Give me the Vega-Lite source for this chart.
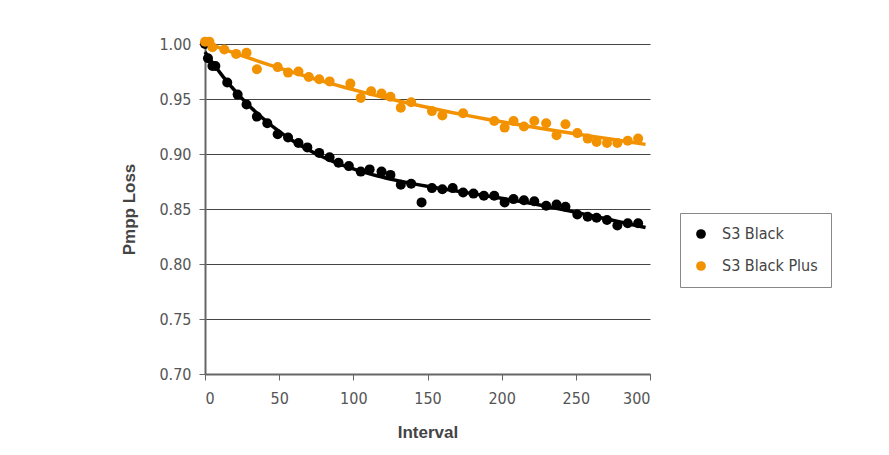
{
  "$schema": "https://vega.github.io/schema/vega-lite/v6.json",
  "width": 445,
  "height": 330,
  "autosize": {"type": "none"},
  "padding": {"left": 205, "top": 44, "right": 239, "bottom": 81},
  "background": "white",
  "config": {
    "view": {"stroke": null},
    "font": "DejaVu Sans Condensed, Roboto, sans-serif",
    "axis": {
      "labelFont": "DejaVu Sans Condensed, Roboto, sans-serif",
      "labelFontSize": 16,
      "labelColor": "#555555",
      "titleFont": "Liberation Sans, sans-serif",
      "titleFontSize": 17,
      "titleFontWeight": "bold",
      "titleColor": "#444444",
      "domainColor": "#666666",
      "domainWidth": 2,
      "tickColor": "#666666",
      "tickSize": 6,
      "gridColor": "#444444",
      "gridWidth": 1
    }
  },
  "data": {
    "values": [
      {"interval": 0, "loss": 1.000, "series": "S3 Black"},
      {"interval": 2, "loss": 0.987, "series": "S3 Black"},
      {"interval": 5, "loss": 0.980, "series": "S3 Black"},
      {"interval": 7, "loss": 0.980, "series": "S3 Black"},
      {"interval": 15, "loss": 0.965, "series": "S3 Black"},
      {"interval": 22, "loss": 0.954, "series": "S3 Black"},
      {"interval": 28, "loss": 0.945, "series": "S3 Black"},
      {"interval": 35, "loss": 0.934, "series": "S3 Black"},
      {"interval": 42, "loss": 0.928, "series": "S3 Black"},
      {"interval": 49, "loss": 0.918, "series": "S3 Black"},
      {"interval": 56, "loss": 0.915, "series": "S3 Black"},
      {"interval": 63, "loss": 0.910, "series": "S3 Black"},
      {"interval": 69, "loss": 0.906, "series": "S3 Black"},
      {"interval": 77, "loss": 0.901, "series": "S3 Black"},
      {"interval": 84, "loss": 0.897, "series": "S3 Black"},
      {"interval": 90, "loss": 0.892, "series": "S3 Black"},
      {"interval": 97, "loss": 0.889, "series": "S3 Black"},
      {"interval": 105, "loss": 0.884, "series": "S3 Black"},
      {"interval": 111, "loss": 0.886, "series": "S3 Black"},
      {"interval": 119, "loss": 0.884, "series": "S3 Black"},
      {"interval": 125, "loss": 0.881, "series": "S3 Black"},
      {"interval": 132, "loss": 0.872, "series": "S3 Black"},
      {"interval": 139, "loss": 0.873, "series": "S3 Black"},
      {"interval": 146, "loss": 0.856, "series": "S3 Black"},
      {"interval": 153, "loss": 0.869, "series": "S3 Black"},
      {"interval": 160, "loss": 0.868, "series": "S3 Black"},
      {"interval": 167, "loss": 0.869, "series": "S3 Black"},
      {"interval": 174, "loss": 0.865, "series": "S3 Black"},
      {"interval": 181, "loss": 0.864, "series": "S3 Black"},
      {"interval": 188, "loss": 0.862, "series": "S3 Black"},
      {"interval": 195, "loss": 0.862, "series": "S3 Black"},
      {"interval": 202, "loss": 0.856, "series": "S3 Black"},
      {"interval": 208, "loss": 0.859, "series": "S3 Black"},
      {"interval": 215, "loss": 0.858, "series": "S3 Black"},
      {"interval": 222, "loss": 0.857, "series": "S3 Black"},
      {"interval": 230, "loss": 0.853, "series": "S3 Black"},
      {"interval": 237, "loss": 0.854, "series": "S3 Black"},
      {"interval": 243, "loss": 0.852, "series": "S3 Black"},
      {"interval": 251, "loss": 0.845, "series": "S3 Black"},
      {"interval": 258, "loss": 0.843, "series": "S3 Black"},
      {"interval": 264, "loss": 0.842, "series": "S3 Black"},
      {"interval": 271, "loss": 0.840, "series": "S3 Black"},
      {"interval": 278, "loss": 0.835, "series": "S3 Black"},
      {"interval": 285, "loss": 0.837, "series": "S3 Black"},
      {"interval": 292, "loss": 0.837, "series": "S3 Black"},
      {"interval": 0, "loss": 1.002, "series": "S3 Black Plus"},
      {"interval": 3, "loss": 1.002, "series": "S3 Black Plus"},
      {"interval": 5, "loss": 0.997, "series": "S3 Black Plus"},
      {"interval": 13, "loss": 0.995, "series": "S3 Black Plus"},
      {"interval": 21, "loss": 0.991, "series": "S3 Black Plus"},
      {"interval": 28, "loss": 0.992, "series": "S3 Black Plus"},
      {"interval": 35, "loss": 0.977, "series": "S3 Black Plus"},
      {"interval": 49, "loss": 0.979, "series": "S3 Black Plus"},
      {"interval": 56, "loss": 0.974, "series": "S3 Black Plus"},
      {"interval": 63, "loss": 0.975, "series": "S3 Black Plus"},
      {"interval": 70, "loss": 0.970, "series": "S3 Black Plus"},
      {"interval": 77, "loss": 0.968, "series": "S3 Black Plus"},
      {"interval": 84, "loss": 0.966, "series": "S3 Black Plus"},
      {"interval": 98, "loss": 0.964, "series": "S3 Black Plus"},
      {"interval": 105, "loss": 0.951, "series": "S3 Black Plus"},
      {"interval": 112, "loss": 0.957, "series": "S3 Black Plus"},
      {"interval": 119, "loss": 0.955, "series": "S3 Black Plus"},
      {"interval": 125, "loss": 0.952, "series": "S3 Black Plus"},
      {"interval": 132, "loss": 0.942, "series": "S3 Black Plus"},
      {"interval": 139, "loss": 0.947, "series": "S3 Black Plus"},
      {"interval": 153, "loss": 0.939, "series": "S3 Black Plus"},
      {"interval": 160, "loss": 0.935, "series": "S3 Black Plus"},
      {"interval": 174, "loss": 0.937, "series": "S3 Black Plus"},
      {"interval": 195, "loss": 0.930, "series": "S3 Black Plus"},
      {"interval": 202, "loss": 0.924, "series": "S3 Black Plus"},
      {"interval": 208, "loss": 0.930, "series": "S3 Black Plus"},
      {"interval": 215, "loss": 0.925, "series": "S3 Black Plus"},
      {"interval": 222, "loss": 0.930, "series": "S3 Black Plus"},
      {"interval": 230, "loss": 0.928, "series": "S3 Black Plus"},
      {"interval": 237, "loss": 0.917, "series": "S3 Black Plus"},
      {"interval": 243, "loss": 0.927, "series": "S3 Black Plus"},
      {"interval": 251, "loss": 0.919, "series": "S3 Black Plus"},
      {"interval": 258, "loss": 0.914, "series": "S3 Black Plus"},
      {"interval": 264, "loss": 0.911, "series": "S3 Black Plus"},
      {"interval": 271, "loss": 0.910, "series": "S3 Black Plus"},
      {"interval": 278, "loss": 0.910, "series": "S3 Black Plus"},
      {"interval": 285, "loss": 0.912, "series": "S3 Black Plus"},
      {"interval": 292, "loss": 0.914, "series": "S3 Black Plus"}
    ]
  },
  "encoding": {
    "x": {
      "field": "interval",
      "type": "quantitative",
      "scale": {"domain": [0, 300], "nice": false, "zero": false},
      "axis": {"title": "Interval", "values": [0, 50, 100, 150, 200, 250, 300], "grid": false, "titlePadding": 18, "labelPadding": 10}
    },
    "y": {
      "field": "loss",
      "type": "quantitative",
      "scale": {"domain": [0.7, 1.0], "nice": false, "zero": false, "clamp": false},
      "axis": {"title": "Pmpp Loss", "values": [0.7, 0.75, 0.8, 0.85, 0.9, 0.95, 1.0], "format": ".2f", "grid": true, "titlePadding": 20, "labelPadding": 8}
    },
    "color": {
      "field": "series",
      "type": "nominal",
      "scale": {"domain": ["S3 Black", "S3 Black Plus"], "range": ["#000000", "#F39200"]},
      "legend": {
        "title": null,
        "orient": "none",
        "legendX": 475,
        "legendY": 169,
        "labelFont": "DejaVu Sans Condensed, Roboto, sans-serif",
        "labelFontSize": 16,
        "labelColor": "#444444",
        "symbolType": "circle",
        "symbolSize": 95,
        "symbolStrokeWidth": 0,
        "rowPadding": 16,
        "padding": 13,
        "strokeColor": "#888888",
        "labelOffset": 13,
        "labelLimit": 300,
        "fillColor": "white"
      }
    }
  },
  "layer": [
    {
      "mark": {"type": "circle", "size": 100, "opacity": 1}
    },
    {
      "transform": [
        {"regression": "loss", "on": "interval", "groupby": ["series"], "method": "poly", "order": 4, "extent": [0, 297]}
      ],
      "mark": {"type": "line", "strokeWidth": 3.5}
    }
  ]
}
